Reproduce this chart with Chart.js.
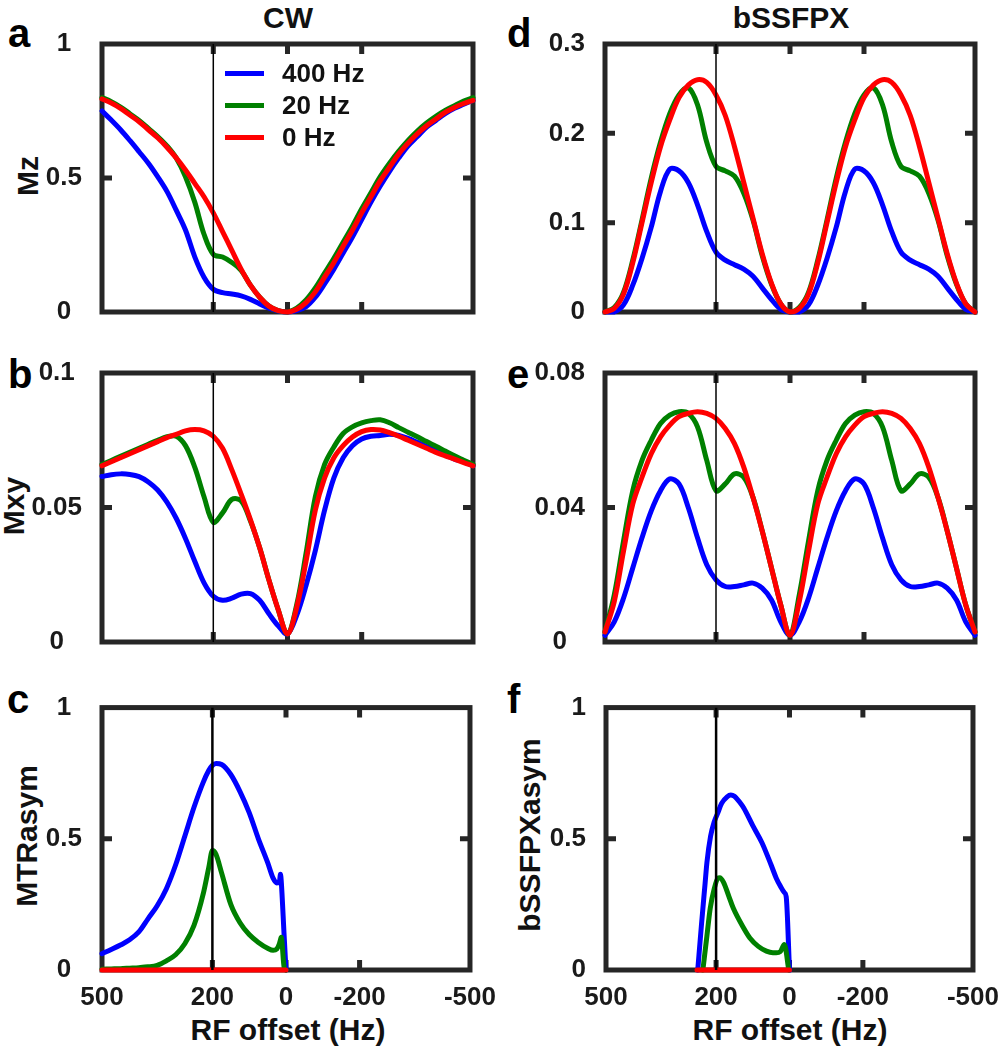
<!DOCTYPE html>
<html>
<head>
<meta charset="utf-8">
<script src="https://cdn.jsdelivr.net/npm/chart.js@4.4.1/dist/chart.umd.min.js"></script>
<style>
  body { margin: 0; background: #fff; }
  #fig { position: relative; width: 1003px; height: 1050px; overflow: hidden;
         font-family: "Liberation Sans", Arial, sans-serif; font-weight: bold; color: #111; }
  #fig canvas { position: absolute; }
  .t { position: absolute; line-height: 1; white-space: nowrap; }
  .letter { font-size: 40px; color: #000; }
  .title { font-size: 30px; transform: translateX(-50%); }
  .ylab { font-size: 30px; transform: translate(-50%, -50%) rotate(-90deg); }
  .leg { font-size: 26px; }
  .legline { position: absolute; height: 5px; }
</style>
</head>
<body>
<div id="fig">
  <div class="t title" style="left:288px; top:3px">CW</div>
  <div class="t title" style="left:791px; top:3px">bSSFPX</div>

  <div class="t letter" style="left:8px; top:13px">a</div>
  <div class="t letter" style="left:8px; top:354px">b</div>
  <div class="t letter" style="left:7px; top:679px">c</div>
  <div class="t letter" style="left:507px; top:13px">d</div>
  <div class="t letter" style="left:507px; top:354px">e</div>
  <div class="t letter" style="left:507px; top:679px">f</div>

  <div class="t ylab" style="left:28px; top:176px">Mz</div>
  <div class="t ylab" style="left:14px; top:506px">Mxy</div>
  <div class="t ylab" style="left:27px; top:836px">MTRasym</div>
  <div class="t ylab" style="left:530px; top:835px">bSSFPXasym</div>

  <div class="t title" style="left:288px; top:1015px">RF offset (Hz)</div>
  <div class="t title" style="left:790px; top:1015px">RF offset (Hz)</div>
</div>

<script>
// saturation pulse bandwidths
const SERIES_NAMES = ["400 Hz", "20 Hz", "0 Hz"];
const SERIES_COLORS = ["#0000ff", "#008000", "#ff0000"];

const X_TICKS = [500, 200, 0, -200, -500];
const MARK_HZ = 200;

const MZ_TICKS = [0, 0.5, 1];
const MXY_TICKS = [0, 0.05, 0.1];
const MTR_TICKS = [0, 0.5, 1];
const BS_MZ_TICKS = [0, 0.1, 0.2, 0.3];
const BS_MXY_TICKS = [0, 0.04, 0.08];
const BSX_TICKS = [0, 0.5, 1];

// RF offset grid for the full-range panels
const HZ = [500, 475, 450, 425, 400, 375, 350, 325, 300, 275, 250, 225, 200, 175, 150, 125, 100, 75, 50, 25, 0,
            -25, -50, -75, -100, -125, -150, -175, -200, -225, -250, -275, -300, -325, -350, -375, -400, -425, -450, -475, -500];

// a: CW Mz
const MZ_400 = [0.75, 0.716, 0.68, 0.64, 0.598, 0.555, 0.505, 0.45, 0.38, 0.306, 0.206, 0.13, 0.085, 0.072, 0.067, 0.06, 0.047, 0.03, 0.014, 0.004, 0,
                0.005, 0.02, 0.055, 0.105, 0.16, 0.22, 0.28, 0.345, 0.41, 0.47, 0.525, 0.575, 0.62, 0.655, 0.69, 0.715, 0.74, 0.76, 0.775, 0.79];
const MZ_20 = [0.80, 0.785, 0.765, 0.74, 0.715, 0.685, 0.655, 0.62, 0.575, 0.505, 0.41, 0.29, 0.215, 0.205, 0.185, 0.155, 0.10, 0.055, 0.022, 0.005, 0,
               0.015, 0.045, 0.09, 0.145, 0.2, 0.26, 0.32, 0.385, 0.445, 0.505, 0.555, 0.6, 0.64, 0.675, 0.705, 0.73, 0.752, 0.77, 0.787, 0.80];
const MZ_0 = [0.795, 0.78, 0.76, 0.735, 0.71, 0.68, 0.65, 0.615, 0.575, 0.53, 0.48, 0.43, 0.37, 0.30, 0.23, 0.16, 0.10, 0.055, 0.022, 0.005, 0,
              0.01, 0.035, 0.075, 0.13, 0.185, 0.245, 0.305, 0.37, 0.43, 0.49, 0.54, 0.59, 0.63, 0.665, 0.695, 0.72, 0.745, 0.763, 0.778, 0.79];

// b: CW Mxy
const MXY_400 = [0.0615, 0.0622, 0.0625, 0.0623, 0.0615, 0.0595, 0.0565, 0.052, 0.046, 0.0385, 0.03, 0.022, 0.017, 0.0155, 0.0163, 0.0178, 0.018, 0.0155, 0.0105, 0.006, 0.003,
                 0.010, 0.021, 0.034, 0.049, 0.061, 0.0685, 0.073, 0.0755, 0.0765, 0.0768, 0.0772, 0.0768, 0.0757, 0.0742, 0.0727, 0.071, 0.0695, 0.068, 0.067, 0.0655];
const MXY_20 = [0.066, 0.0675, 0.069, 0.0705, 0.072, 0.0735, 0.075, 0.0763, 0.0765, 0.073, 0.065, 0.054, 0.0445, 0.048, 0.053, 0.0525, 0.045, 0.035, 0.023, 0.012, 0.003,
                0.014, 0.033, 0.054, 0.066, 0.0725, 0.0775, 0.080, 0.0815, 0.0823, 0.0826, 0.0815, 0.0797, 0.078, 0.0763, 0.0745, 0.0728, 0.071, 0.0692, 0.0676, 0.066];
const MXY_0 = [0.0655, 0.067, 0.0685, 0.070, 0.0715, 0.073, 0.0745, 0.076, 0.0772, 0.0785, 0.079, 0.0785, 0.0765, 0.072, 0.064, 0.055, 0.0455, 0.035, 0.023, 0.012, 0.003,
               0.013, 0.030, 0.049, 0.061, 0.0685, 0.073, 0.0762, 0.0782, 0.079, 0.0788, 0.0778, 0.0765, 0.075, 0.0735, 0.072, 0.0705, 0.0692, 0.068, 0.0667, 0.0655];

// c: MTRasym (positive offsets only)
const MTR_HZ = [500, 475, 450, 425, 400, 375, 350, 325, 300, 275, 250, 225, 210, 200, 190, 175, 150, 125, 100, 75, 50, 35, 25, 18, 15, 13, 5, 0];
const MTR_400 = [0.062, 0.078, 0.095, 0.115, 0.145, 0.195, 0.245, 0.31, 0.40, 0.51, 0.62, 0.715, 0.76, 0.78, 0.787, 0.783, 0.745, 0.68, 0.6, 0.5, 0.41, 0.35, 0.332, 0.335, 0.365, 0.34, 0.13, 0];
const MTR_20 = [0.003, 0.004, 0.005, 0.007, 0.009, 0.012, 0.018, 0.035, 0.058, 0.1, 0.17, 0.29, 0.39, 0.455, 0.44, 0.37, 0.25, 0.18, 0.135, 0.105, 0.083, 0.075, 0.08, 0.1, 0.115, 0.125, 0.01, 0];
const MTR_HZ_0 = [500, 0];
const MTR_0 = [0, 0];

// d: bSSFPX Mz
const BS_MZ_400 = [0, 0, 0.008, 0.03, 0.06, 0.095, 0.135, 0.16, 0.158, 0.145, 0.12, 0.09, 0.067, 0.058, 0.053, 0.048, 0.04, 0.027, 0.014, 0.003, 0,
                   0, 0.008, 0.03, 0.06, 0.095, 0.135, 0.16, 0.158, 0.145, 0.12, 0.09, 0.067, 0.058, 0.053, 0.048, 0.04, 0.027, 0.014, 0.003, 0];
const BS_MZ_20 = [0, 0.005, 0.022, 0.058, 0.103, 0.15, 0.19, 0.222, 0.243, 0.251, 0.232, 0.19, 0.163, 0.158, 0.152, 0.133, 0.103, 0.063, 0.031, 0.009, 0,
                  0.005, 0.022, 0.058, 0.103, 0.15, 0.19, 0.222, 0.243, 0.251, 0.232, 0.19, 0.163, 0.158, 0.152, 0.133, 0.103, 0.063, 0.031, 0.009, 0];
const BS_MZ_0 = [0, 0.004, 0.02, 0.055, 0.10, 0.145, 0.185, 0.215, 0.24, 0.254, 0.26, 0.257, 0.243, 0.22, 0.185, 0.145, 0.105, 0.065, 0.032, 0.009, 0,
                 0.004, 0.02, 0.055, 0.10, 0.145, 0.185, 0.215, 0.24, 0.254, 0.26, 0.257, 0.243, 0.22, 0.185, 0.145, 0.105, 0.065, 0.032, 0.009, 0];

// e: bSSFPX Mxy
const BS_MXY_400 = [0.002, 0.006, 0.013, 0.022, 0.031, 0.039, 0.045, 0.0485, 0.047, 0.04, 0.031, 0.023, 0.0185, 0.0165, 0.0165, 0.017, 0.0175, 0.016, 0.0125, 0.006, 0.002,
                    0.006, 0.013, 0.022, 0.031, 0.039, 0.045, 0.0485, 0.047, 0.04, 0.031, 0.023, 0.0185, 0.0165, 0.0165, 0.017, 0.0175, 0.016, 0.0125, 0.006, 0.002];
const BS_MXY_20 = [0.003, 0.014, 0.03, 0.045, 0.054, 0.06, 0.065, 0.0675, 0.0685, 0.068, 0.064, 0.054, 0.045, 0.047, 0.05, 0.049, 0.043, 0.033, 0.022, 0.011, 0.002,
                   0.014, 0.03, 0.045, 0.054, 0.06, 0.065, 0.0675, 0.0685, 0.068, 0.064, 0.054, 0.045, 0.047, 0.05, 0.049, 0.043, 0.033, 0.022, 0.011, 0.003];
const BS_MXY_0 = [0.003, 0.012, 0.027, 0.041, 0.049, 0.056, 0.061, 0.0645, 0.067, 0.068, 0.0685, 0.068, 0.0665, 0.0635, 0.059, 0.052, 0.043, 0.033, 0.022, 0.011, 0.002,
                  0.012, 0.027, 0.041, 0.049, 0.056, 0.061, 0.0645, 0.067, 0.068, 0.0685, 0.068, 0.0665, 0.0635, 0.059, 0.052, 0.043, 0.033, 0.022, 0.011, 0.003];

// f: bSSFPXasym
const BSX_HZ_400 = [250, 240, 230, 225, 215, 205, 195, 185, 170, 160, 150, 135, 125, 100, 75, 50, 36, 25, 14, 9, 0];
const BSX_400 = [0, 0.17, 0.33, 0.41, 0.51, 0.565, 0.6, 0.635, 0.66, 0.667, 0.662, 0.638, 0.618, 0.55, 0.485, 0.4, 0.35, 0.32, 0.295, 0.28, 0];
const BSX_HZ_20 = [236, 225, 216, 205, 195, 190, 180, 165, 153, 125, 108, 85, 63, 45, 36, 25, 14, 2];
const BSX_20 = [0, 0.13, 0.235, 0.31, 0.35, 0.352, 0.335, 0.28, 0.235, 0.16, 0.122, 0.09, 0.072, 0.066, 0.066, 0.07, 0.097, 0];
const BSX_HZ_0 = [252, 0];
const BSX_0 = [0, 0];

const FRAME_COLOR = "#262626";
const TEXT_COLOR = "#1a1a1a";
const TICK_FONT = { family: "Liberation Sans", size: 26, weight: "bold" };

// box = canvas [left, top, width, height], area = plot frame [left, top, right, bottom] in page px
const panels = [
  { box: [0, 0, 500, 340], area: [102, 44, 473, 312], yTicks: MZ_TICKS, cross: "center", xLabels: false, markW: 1.5, smooth: true,
    series: [[HZ, MZ_400], [HZ, MZ_20], [HZ, MZ_0]] },
  { box: [0, 340, 500, 340], area: [102, 373, 473, 642], yTicks: MXY_TICKS, cross: "center", xLabels: false, markW: 1.5, smooth: true,
    series: [[HZ, MXY_400], [HZ, MXY_20], [HZ, MXY_0]] },
  { box: [0, 680, 500, 370], area: [102, 702, 473, 970], yTicks: MTR_TICKS, cross: "center", xLabels: true, markW: 2.5, smooth: false,
    series: [[MTR_HZ, MTR_400], [MTR_HZ, MTR_20], [MTR_HZ_0, MTR_0]] },
  { box: [500, 0, 503, 340], area: [605, 44, 975, 312], yTicks: BS_MZ_TICKS, cross: "near", xLabels: false, markW: 1.5, smooth: true,
    series: [[HZ, BS_MZ_400], [HZ, BS_MZ_20], [HZ, BS_MZ_0]] },
  { box: [500, 340, 503, 340], area: [605, 373, 975, 642], yTicks: BS_MXY_TICKS, cross: "center", xLabels: false, markW: 1.5, smooth: true,
    series: [[HZ, BS_MXY_400], [HZ, BS_MXY_20], [HZ, BS_MXY_0]] },
  { box: [500, 680, 503, 370], area: [606, 702, 974, 970], yTicks: BSX_TICKS, cross: "near", xLabels: true, markW: 2.5, smooth: false,
    series: [[BSX_HZ_400, BSX_400], [BSX_HZ_20, BSX_20], [BSX_HZ_0, BSX_0]] }
];

// box around the plot plus short inward tick marks, drawn under the curves
const framePlugin = {
  id: "frame",
  beforeDatasetsDraw(chart) {
    const { ctx, chartArea: a, scales: { x, y } } = chart;
    const len = 10;
    ctx.save();
    ctx.strokeStyle = FRAME_COLOR;
    ctx.lineWidth = 5;
    ctx.beginPath();
    x.ticks.forEach(t => {
      if (t.value <= x.min || t.value >= x.max) return;
      const px = x.getPixelForValue(t.value);
      ctx.moveTo(px, a.top); ctx.lineTo(px, a.top + len);
      ctx.moveTo(px, a.bottom); ctx.lineTo(px, a.bottom - len);
    });
    y.ticks.forEach(t => {
      if (t.value <= y.min || t.value >= y.max) return;
      const py = y.getPixelForValue(t.value);
      ctx.moveTo(a.left, py); ctx.lineTo(a.left + len, py);
      ctx.moveTo(a.right, py); ctx.lineTo(a.right - len, py);
    });
    ctx.stroke();
    ctx.strokeRect(a.left, a.top, a.right - a.left, a.bottom - a.top);
    ctx.restore();
  }
};

const fig = document.getElementById("fig");

function makePanel(p) {
  const [bx, by, bw, bh] = p.box;
  const [l, t, r, b] = p.area;
  const cv = document.createElement("canvas");
  cv.width = bw;
  cv.height = bh;
  cv.style.left = bx + "px";
  cv.style.top = by + "px";
  fig.appendChild(cv);

  const yMax = p.yTicks[p.yTicks.length - 1];
  const datasets = p.series.map(([xs, ys], i) => ({
    label: SERIES_NAMES[i],
    data: xs.map((x, k) => ({ x, y: ys[k] })),
    borderColor: SERIES_COLORS[i],
    borderWidth: 5,
    pointRadius: 0,
    cubicInterpolationMode: p.smooth ? "default" : "monotone",
    tension: 0.35,
    borderCapStyle: "round",
    borderJoinStyle: "round",
    clip: 5,
    order: 3 - i  // red on top, like the original plot order
  }));
  datasets.push({
    label: "mark",
    data: [{ x: MARK_HZ, y: 0 }, { x: MARK_HZ, y: yMax }],
    borderColor: "#000",
    borderWidth: p.markW,
    pointRadius: 0,
    order: 0
  });

  new Chart(cv, {
    type: "line",
    data: { datasets },
    options: {
      responsive: false,
      animation: false,
      events: [],
      layout: { padding: { top: t - by, right: bx + bw - r, left: 0, bottom: 0 } },
      plugins: { legend: { display: false }, tooltip: { enabled: false } },
      scales: {
        x: {
          type: "linear", reverse: true, min: -500, max: 500,
          grid: { display: false }, border: { display: false },
          afterBuildTicks: s => { s.ticks = X_TICKS.map(v => ({ value: v })); },
          afterFit: s => { s.height = by + bh - b; },
          ticks: { display: p.xLabels, font: TICK_FONT, color: TEXT_COLOR, padding: 4,
                   maxRotation: 0, autoSkip: false, callback: v => String(v) }
        },
        y: {
          type: "linear", min: 0, max: yMax,
          grid: { display: false }, border: { display: false },
          afterBuildTicks: s => { s.ticks = p.yTicks.map(v => ({ value: v })); },
          afterFit: s => { s.width = l - bx; },
          ticks: { font: TICK_FONT, color: TEXT_COLOR, padding: 12, crossAlign: p.cross,
                   callback: v => String(v) }
        }
      }
    },
    plugins: [framePlugin]
  });
}

panels.forEach(makePanel);

// legend inside panel a
const LEG_X = 225, LEG_LEN = 39, LEG_TEXT_X = 282, LEG_Y0 = 73, LEG_DY = 32;
SERIES_NAMES.forEach((name, i) => {
  const cy = LEG_Y0 + i * LEG_DY;
  const ln = document.createElement("div");
  ln.className = "legline";
  ln.style.cssText = `left:${LEG_X}px; top:${cy - 2.5}px; width:${LEG_LEN}px; background:${SERIES_COLORS[i]}`;
  fig.appendChild(ln);
  const tx = document.createElement("div");
  tx.className = "t leg";
  tx.style.cssText = `left:${LEG_TEXT_X}px; top:${cy - 13}px`;
  tx.textContent = name;
  fig.appendChild(tx);
});
</script>
</body>
</html>
